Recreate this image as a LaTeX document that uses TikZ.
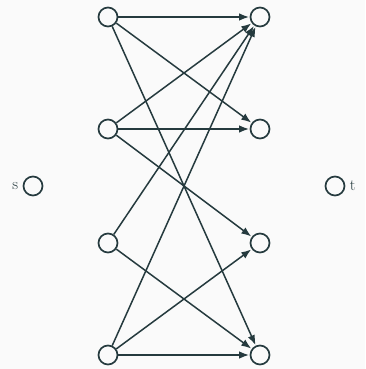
\documentclass[tikz,border=0pt]{standalone}
\usetikzlibrary{arrows.meta}
\definecolor{ink}{HTML}{253A3E}
\definecolor{bg}{HTML}{FAFAFA}
\begin{document}
\begin{tikzpicture}[x=1pt,y=-1pt,
  vert/.style={circle,draw=ink,line width=1.7pt,minimum size=19pt,inner sep=0pt,fill=bg},
  edge/.style={draw=ink,line width=1.5pt,-{Latex[length=10pt,width=7.5pt]},shorten >=0.5pt},
  lab/.style={text=ink,font=\fontsize{16}{19}\selectfont}]
\fill[bg] (0,0) rectangle (365,369);
\useasboundingbox (0,0) rectangle (365,369);
\node[vert] (l1) at (108,17) {};
\node[vert] (l2) at (108,129) {};
\node[vert] (l3) at (108,243) {};
\node[vert] (l4) at (108,355) {};
\node[vert] (r1) at (260,17) {};
\node[vert] (r2) at (260,129) {};
\node[vert] (r3) at (260,243) {};
\node[vert] (r4) at (260,355) {};
\node[vert,label={[lab,label distance=1pt]left:s}] (s) at (33,186) {};
\node[vert,label={[lab,label distance=1pt]right:t}] (t) at (335,186) {};
\draw[edge] (l1) -- (r1);
\draw[edge] (l1) -- (r2);
\draw[edge] (l1) -- (r4);
\draw[edge] (l2) -- (r1);
\draw[edge] (l2) -- (r2);
\draw[edge] (l2) -- (r3);
\draw[edge] (l3) -- (r1);
\draw[edge] (l3) -- (r4);
\draw[edge] (l4) -- (r1);
\draw[edge] (l4) -- (r3);
\draw[edge] (l4) -- (r4);
\end{tikzpicture}
\end{document}
